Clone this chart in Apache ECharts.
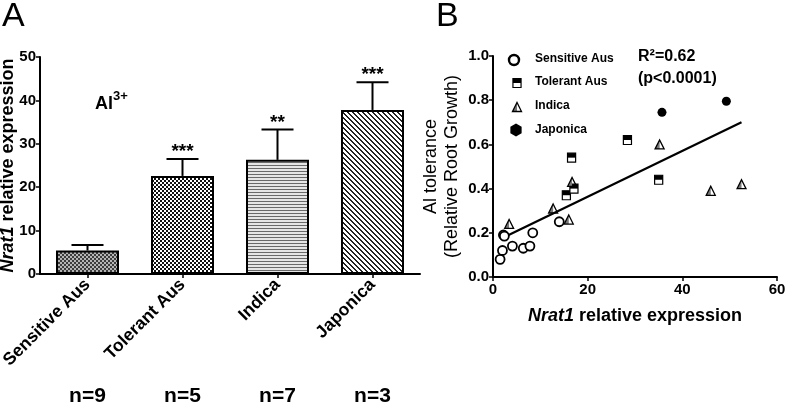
<!DOCTYPE html>
<html>
<head>
<meta charset="utf-8">
<script src="https://cdn.jsdelivr.net/npm/echarts@6/dist/echarts.min.js"></script>
<style>html,body{margin:0;padding:0;background:#fff;}#c{width:786px;height:412px;}</style>
</head>
<body>
<div id="c"></div>
<script>
// ---------- Panel A data ----------
const categories = ['Sensitive Aus', 'Tolerant Aus', 'Indica', 'Japonica'];
const meanExpr = [5.4, 22.6, 26.3, 37.8];
const errUpper = [6.7, 26.5, 33.3, 44.2];
const stars = ['', '***', '**', '***'];
const sampleN = ['n=9', 'n=5', 'n=7', 'n=3'];

// ---------- Panel B data ----------
const sensitiveAus = [[1.5,0.08],[2.0,0.12],[2.2,0.19],[2.4,0.185],[4.1,0.14],[6.4,0.13],[7.8,0.14],[8.4,0.20],[14.0,0.25]];
const tolerantAus = [[15.5,0.37],[16.6,0.54],[17.1,0.40],[28.4,0.62],[35.0,0.44]];
const indica = [[3.4,0.24],[12.7,0.31],[16.0,0.26],[16.7,0.43],[35.2,0.60],[46.0,0.39],[52.5,0.42]];
const japonica = [[35.7,0.745],[49.3,0.795]];
const fitX = [2.0, 52.5];
const fitSlope = 0.01037;
const fitIntercept = 0.156;

const FONT = "'Liberation Sans', Arial, sans-serif";

function mkPattern(w, h, draw) {
  const c = document.createElement('canvas');
  c.width = w; c.height = h;
  const g = c.getContext('2d');
  draw(g, w, h);
  return { image: c, repeat: 'repeat' };
}
const patSensitive = mkPattern(4, 4, (g) => {
  g.fillStyle = '#b4b4b4'; g.fillRect(0,0,4,4);
  g.fillStyle = '#3c3c3c'; g.fillRect(0,0,2,2); g.fillRect(2,2,2,2);
});
const patTolerant = mkPattern(4, 4, (g) => {
  g.fillStyle = '#ffffff'; g.fillRect(0,0,4,4);
  g.fillStyle = '#111111'; g.fillRect(0,0,2,2); g.fillRect(2,2,2,2);
});
const patIndica = mkPattern(4, 3, (g) => {
  g.fillStyle = '#e6e6e6'; g.fillRect(0,0,4,3);
  g.fillStyle = '#6a6a6a'; g.fillRect(0,0,4,1);
});
const patJaponica = mkPattern(5, 5, (g) => {
  g.fillStyle = '#ffffff'; g.fillRect(0,0,5,5);
  g.fillStyle = '#222222';
  for (let i = 0; i < 5; i++) { g.fillRect(i, i, 1, 1); g.fillRect((i+1)%5, i, 1, 1); }
});
const patterns = [patSensitive, patTolerant, patIndica, patJaponica];

// marker shape builders (pixel position -> elements)
function squareParts(x, y, s) {
  const w = s * 0.9, h = s;
  return [
    { type: 'rect', shape: { x: x - w/2, y: y - h/2, width: w, height: h }, style: { fill: '#fff', stroke: '#000', lineWidth: 1.2 } },
    { type: 'rect', shape: { x: x - w/2, y: y - h/2, width: w, height: h/2 }, style: { fill: '#000' } }
  ];
}
function triangleParts(x, y, s) {
  const w = s, h = s;
  return [
    { type: 'polygon', shape: { points: [[x - w/2, y + h/2], [x, y - h/2], [x, y + h/2]] }, style: { fill: '#777' } },
    { type: 'polygon', shape: { points: [[x - w/2, y + h/2], [x, y - h/2], [x + w/2, y + h/2]] }, style: { fill: 'none', stroke: '#000', lineWidth: 1.3 } }
  ];
}
function hexParts(x, y, r) {
  const pts = [];
  for (let i = 0; i < 6; i++) { const a = Math.PI / 6 + i * Math.PI / 3; pts.push([x + r * Math.cos(a), y + r * Math.sin(a)]); }
  return [{ type: 'polygon', shape: { points: pts }, style: { fill: '#000' } }];
}

const chart = echarts.init(document.getElementById('c'), null, { renderer: 'canvas' });

const axisLineStyle = { color: '#000', width: 2 };

const option = {
  animation: false,
  backgroundColor: '#fff',
  textStyle: { fontFamily: FONT },
  grid: [
    { left: 40, top: 57, width: 380, height: 217, containLabel: false, outerBoundsMode: 'none' },
    { left: 493, top: 56, width: 284, height: 221, containLabel: false, outerBoundsMode: 'none' }
  ],
  xAxis: [
    {
      type: 'category', gridIndex: 0, data: categories, boundaryGap: true,
      axisLine: { lineStyle: axisLineStyle },
      axisTick: { show: true, alignWithLabel: true, length: 4, lineStyle: { color: '#000', width: 1.5 } },
      axisLabel: { rotate: 45, margin: 8, color: '#000', fontSize: 17.5, fontWeight: 'bold', fontFamily: FONT, interval: 0 }
    },
    {
      type: 'category', gridIndex: 0, data: sampleN, boundaryGap: true, position: 'bottom', offset: 104,
      axisLine: { show: false }, axisTick: { show: false },
      axisLabel: { margin: 8, color: '#000', fontSize: 21, fontWeight: 'bold', fontFamily: FONT, interval: 0 }
    },
    {
      type: 'value', gridIndex: 1, min: 0, max: 60, interval: 20,
      name: '{i|Nrat1} relative expression', nameLocation: 'middle', nameGap: 30,
      nameTextStyle: { color: '#000', fontSize: 18, fontWeight: 'bold', fontFamily: FONT,
        rich: { i: { fontStyle: 'italic', fontWeight: 'bold', fontSize: 18, fontFamily: FONT, color: '#000' } } },
      axisLine: { lineStyle: axisLineStyle },
      axisTick: { show: true, length: 4, lineStyle: { color: '#000', width: 1.5 } },
      splitLine: { show: false },
      axisLabel: { margin: 5, color: '#000', fontSize: 15, fontWeight: 'bold', fontFamily: FONT }
    }
  ],
  yAxis: [
    {
      type: 'value', gridIndex: 0, min: 0, max: 50, interval: 10,
      name: '{i|Nrat1} relative expression', nameLocation: 'middle', nameGap: 23, nameRotate: 90, nameMoveOverlap: false,
      nameTextStyle: { color: '#000', fontSize: 18, fontWeight: 'bold', fontFamily: FONT,
        rich: { i: { fontStyle: 'italic', fontWeight: 'bold', fontSize: 18, fontFamily: FONT, color: '#000' } } },
      axisLine: { show: true, lineStyle: axisLineStyle },
      axisTick: { show: true, length: 4, lineStyle: { color: '#000', width: 1.5 } },
      splitLine: { show: false },
      axisLabel: { margin: 4, color: '#000', fontSize: 15, fontWeight: 'bold', fontFamily: FONT }
    },
    {
      type: 'value', gridIndex: 1, min: 0, max: 1.0, interval: 0.2,
      name: 'Al tolerance\n(Relative Root Growth)', nameLocation: 'middle', nameGap: 30, nameRotate: 90,
      nameTextStyle: { color: '#000', fontSize: 18, fontWeight: 'normal', fontFamily: FONT, lineHeight: 21 },
      axisLine: { show: true, lineStyle: axisLineStyle },
      axisTick: { show: true, length: 4, lineStyle: { color: '#000', width: 1.5 } },
      splitLine: { show: false },
      axisLabel: { margin: 4, color: '#000', fontSize: 15, fontWeight: 'bold', fontFamily: FONT,
        formatter: (v) => v.toFixed(1) }
    }
  ],
  series: [
    {
      type: 'bar', xAxisIndex: 0, yAxisIndex: 0, barWidth: 63, z: 2,
      data: meanExpr.map((v, i) => ({ value: v, itemStyle: { color: patterns[i], borderColor: '#000', borderWidth: 2 } }))
    },
    {
      type: 'custom', xAxisIndex: 0, yAxisIndex: 0, z: 1,
      data: meanExpr.map((v, i) => [i, v, errUpper[i]]),
      renderItem: (params, api) => {
        const i = api.value(0);
        const p1 = api.coord([i, api.value(1)]);
        const p2 = api.coord([i, api.value(2)]);
        const cap = 16;
        return {
          type: 'group',
          children: [
            { type: 'line', shape: { x1: p1[0], y1: p1[1], x2: p2[0], y2: p2[1] }, style: { stroke: '#000', lineWidth: 2 } },
            { type: 'line', shape: { x1: p2[0] - cap, y1: p2[1], x2: p2[0] + cap, y2: p2[1] }, style: { stroke: '#000', lineWidth: 2 } },
            { type: 'text', style: { text: stars[params.dataIndex], x: p2[0], y: p2[1] - 7, align: 'center', verticalAlign: 'middle',
              fontSize: 19, fontWeight: 'bold', fontFamily: FONT, fill: '#000' } }
          ]
        };
      }
    },
    {
      type: 'line', xAxisIndex: 2, yAxisIndex: 1, symbol: 'none', z: 1,
      data: fitX.map((x) => [x, fitSlope * x + fitIntercept]),
      lineStyle: { color: '#000', width: 2.2 }
    },
    {
      type: 'scatter', xAxisIndex: 2, yAxisIndex: 1, symbol: 'circle', symbolSize: 9, z: 3,
      data: sensitiveAus,
      itemStyle: { color: '#fff', borderColor: '#000', borderWidth: 1.8, opacity: 1 }
    },
    {
      type: 'custom', xAxisIndex: 2, yAxisIndex: 1, z: 3,
      data: tolerantAus,
      renderItem: (params, api) => {
        const p = api.coord([api.value(0), api.value(1)]);
        return { type: 'group', children: squareParts(p[0], p[1], 9) };
      }
    },
    {
      type: 'custom', xAxisIndex: 2, yAxisIndex: 1, z: 3,
      data: indica,
      renderItem: (params, api) => {
        const p = api.coord([api.value(0), api.value(1)]);
        return { type: 'group', children: triangleParts(p[0], p[1], 9) };
      }
    },
    {
      type: 'scatter', xAxisIndex: 2, yAxisIndex: 1, symbol: 'circle', symbolSize: 9, z: 3,
      data: japonica,
      itemStyle: { color: '#000', opacity: 1 }
    }
  ],
  graphic: [
    { type: 'text', left: 2, top: 0, style: { text: 'A', fontSize: 34, fontFamily: FONT, fill: '#000' } },
    { type: 'text', left: 436, top: 0, style: { text: 'B', fontSize: 34, fontFamily: FONT, fill: '#000' } },
    { type: 'text', left: 95, top: 95, style: { text: 'Al', fontSize: 18, fontWeight: 'bold', fontFamily: FONT, fill: '#000' } },
    { type: 'text', left: 113, top: 90, style: { text: '3+', fontSize: 13, fontWeight: 'bold', fontFamily: FONT, fill: '#000' } },
    { type: 'text', left: 638, top: 49, style: { text: 'R²=0.62', fontSize: 16, fontWeight: 'bold', fontFamily: FONT, fill: '#000' } },
    { type: 'text', left: 638, top: 71, style: { text: '(p<0.0001)', fontSize: 16, fontWeight: 'bold', fontFamily: FONT, fill: '#000' } },
    // legend
    { type: 'circle', shape: { cx: 514, cy: 60, r: 5 }, style: { fill: '#fff', stroke: '#000', lineWidth: 2.4 } },
    { type: 'group', children: squareParts(517, 83, 9) },
    { type: 'group', children: triangleParts(517, 107, 9) },
    { type: 'group', children: hexParts(516, 130, 6.5) },
    { type: 'text', left: 535, top: 53, style: { text: categories[0], fontSize: 12, fontWeight: 'bold', fontFamily: FONT, fill: '#000' } },
    { type: 'text', left: 535, top: 76, style: { text: categories[1], fontSize: 12, fontWeight: 'bold', fontFamily: FONT, fill: '#000' } },
    { type: 'text', left: 535, top: 100, style: { text: categories[2], fontSize: 12, fontWeight: 'bold', fontFamily: FONT, fill: '#000' } },
    { type: 'text', left: 535, top: 124, style: { text: categories[3], fontSize: 12, fontWeight: 'bold', fontFamily: FONT, fill: '#000' } }
  ]
};
chart.setOption(option);
</script>
</body>
</html>
